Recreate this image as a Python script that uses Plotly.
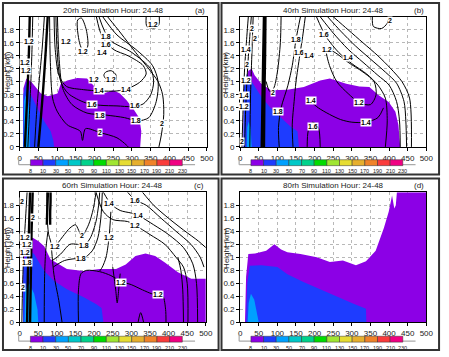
import plotly.graph_objects as go

W, H = 449, 357

# ---------------- data ----------------
TITLES = ["20rh Simulation Hour: 24-48", "40rh Simulation Hour: 24-48",
          "60rh Simulation Hour: 24-48", "80rh Simulation Hour: 24-48"]
TAGS = ["(a)", "(b)", "(c)", "(d)"]
X_TICKS = [0, 50, 100, 150, 200, 250, 300, 350, 400, 450, 500]
Y_TICKS = [0, 0.2, 0.4, 0.6, 0.8, 1, 1.2, 1.4, 1.6, 1.8]
Y_TICKTEXT = ["0", "0.2", "0.4", "0.6", "0.8", "1", "1.2", "1.4", "1.6", "1.8"]
CB_LEVELS = [8, 10, 30, 50, 70, 90, 110, 130, 150, 170, 190, 210, 230]
CB_COLORS = ["#8c00e6", "#1e3cff", "#00a0ff", "#00c8c8", "#00d28c", "#00dc00",
             "#a0e632", "#e6dc32", "#e6af2d", "#f08228", "#fa3c3c", "#f00082"]

# filled regions (top boundary of each shaded class), km / km
a_purple_x = [9, 10, 18, 31, 57, 75, 101, 110, 127, 154, 180, 206, 224, 250, 268, 285, 303, 320, 325, 322]
a_purple_y = [0, 0.9, 1.05, 1.0, 0.82, 0.78, 0.82, 0.97, 1.02, 1.06, 1.05, 0.89, 0.82, 0.87, 0.82, 0.72, 0.59, 0.44, 0.24, 0]
a_blue_x = [9, 10, 18, 31, 48, 66, 83, 90, 92]
a_blue_y = [0, 0.8, 1.0, 0.79, 0.59, 0.39, 0.24, 0.1, 0]
a_lblue_x = [11, 12, 16, 22, 26, 27]
a_lblue_y = [0, 0.7, 0.79, 0.75, 0.5, 0]

b_purple_x = [9, 10, 22, 31, 39, 57, 83, 127, 171, 215, 241, 285, 320, 347, 373, 399, 417, 425, 430]
b_purple_y = [0, 0.9, 1.17, 1.2, 1.1, 0.97, 0.87, 0.88, 0.92, 1.02, 1.05, 0.97, 0.93, 0.92, 0.79, 0.69, 0.54, 0.34, 0]
b_blue_x = [9, 10, 18, 31, 57, 83, 110, 136, 154, 158]
b_blue_y = [0, 0.9, 1.12, 1.0, 0.77, 0.59, 0.44, 0.31, 0.24, 0]
b_lblue_x = [18, 19, 23, 28, 31]
b_lblue_y = [0, 0.3, 0.39, 0.3, 0]

c_purple_x = [9, 10, 20, 35, 50, 66, 83, 110, 127, 171, 215, 259, 285, 311, 338, 364, 390, 425, 461, 500]
c_purple_y = [0, 1.0, 1.25, 1.3, 1.25, 1.17, 0.97, 0.87, 0.82, 0.79, 0.82, 0.82, 0.89, 1.02, 1.06, 1.02, 0.92, 0.77, 0.67, 0.67]
c_blue_x = [9, 10, 22, 39, 66, 92, 127, 171, 206, 220, 225]
c_blue_y = [0, 0.9, 1.12, 1.05, 0.79, 0.64, 0.51, 0.39, 0.28, 0.22, 0]
c_lblue_x = [13, 15, 26, 39, 48, 50]
c_lblue_y = [0, 0.5, 0.6, 0.44, 0.2, 0]

d_purple_x = [13, 16, 22, 40, 70, 92, 110, 127, 162, 206, 241, 276, 311, 338, 364, 386, 399, 408, 414, 418, 421, 500]
d_purple_y = [0, 0.7, 1.05, 1.06, 1.1, 1.2, 1.12, 1.08, 1.05, 1.0, 0.93, 0.95, 0.88, 0.94, 1.1, 1.45, 1.7, 1.95, 1.75, 1.8, 2.0, 2.0]
d_blue_x = [16, 19, 26, 57, 100, 127, 170, 215, 259, 303, 338, 339]
d_blue_y = [0, 0.6, 0.87, 0.88, 0.85, 0.74, 0.62, 0.51, 0.39, 0.29, 0.21, 0]
d_lblue_x = [20, 23, 29, 38, 50]
d_lblue_y = [0, 0.3, 0.44, 0.35, 0]

# contour lines (x list, y list)
a_lines = [
    ([14, 18, 22, 25, 27], [0, 0.5, 1.0, 1.5, 2.0]),
    ([22, 26, 30, 33, 35], [0, 0.5, 1.0, 1.5, 2.0]),
    ([40, 45, 52, 60, 66], [0, 0.5, 1.0, 1.5, 2.0]),
    ([50, 56, 63, 70, 75], [0, 0.4, 0.9, 1.5, 2.0]),
    ([92, 95, 105, 125, 170, 215, 260, 290, 320, 338, 330, 290, 250, 220, 205],
     [2.0, 1.5, 1.1, 0.93, 0.88, 0.86, 0.86, 0.9, 0.99, 1.12, 1.25, 1.4, 1.5, 1.7, 2.0]),
    ([97, 100, 110, 130, 175, 215, 260, 300, 330, 350, 358, 350, 300, 240, 212],
     [2.0, 1.5, 1.0, 0.82, 0.68, 0.64, 0.63, 0.62, 0.66, 0.8, 1.0, 1.2, 1.45, 1.65, 2.0]),
    ([101, 105, 115, 140, 180, 230, 280, 315, 345, 365, 370, 355, 310, 260, 222],
     [2.0, 1.4, 0.9, 0.65, 0.52, 0.49, 0.45, 0.4, 0.45, 0.7, 1.0, 1.25, 1.5, 1.72, 2.0]),
    ([80, 82, 88, 100, 127, 162, 168, 176, 215, 260, 285, 290],
     [2.0, 1.3, 0.75, 0.55, 0.34, 0.24, 0.1, 0.28, 0.22, 0.14, 0.03, 0]),
    ([235, 270, 310, 345, 370, 382, 385, 379, 372],
     [2.0, 1.75, 1.45, 1.2, 1.0, 0.8, 0.5, 0.2, 0]),
    ([155, 160, 172, 182, 178, 165, 155], [1.95, 1.6, 1.45, 1.55, 1.8, 1.98, 1.95]),
    ([338, 340, 360, 372, 373], [2.0, 1.85, 1.82, 1.88, 2.0]),
    ([225, 235, 255, 258, 245, 230, 225], [1.1, 1.02, 1.0, 1.1, 1.17, 1.15, 1.1]),
]
a_thick = [0, 3]
a_labels = [("1.2", 26, 1.62), ("1.2", 13, 1.3), ("1.2", 18, 1.18), ("1.2", 125, 1.62),
            ("1.2", 170, 1.47), ("1.8", 230, 1.69), ("1.6", 230, 1.58), ("1.4", 219, 1.45),
            ("1.2", 245, 1.04), ("1.4", 283, 0.88), ("1.4", 213, 0.86), ("1.6", 193, 0.65),
            ("1.8", 215, 0.49), ("2", 215, 0.22), ("1.6", 307, 0.63), ("1.8", 310, 0.40),
            ("2", 379, 0.36), ("1.2", 355, 1.88), ("1.2", 198, 1.04)]

b_lines = [
    ([5, 8, 12, 18, 22], [0, 0.6, 1.2, 1.7, 2.0]),
    ([12, 15, 20, 26, 30], [0, 0.6, 1.2, 1.7, 2.0]),
    ([26, 28, 32, 35], [0, 0.8, 1.5, 2.0]),
    ([58, 60, 62, 64], [0, 0.7, 1.4, 2.0]),
    ([64, 65, 67, 68], [0, 0.7, 1.4, 2.0]),
    ([110, 108, 100, 90, 80, 70], [2.0, 1.6, 1.15, 0.9, 0.85, 1.0]),
    ([162, 150, 140, 128, 110, 103, 105], [2.0, 1.65, 1.25, 0.94, 0.6, 0.3, 0]),
    ([175, 168, 160, 150, 145, 140, 142], [2.0, 1.7, 1.4, 1.0, 0.7, 0.35, 0]),
    ([180, 183, 195, 210, 215], [0, 0.25, 0.38, 0.3, 0]),
    ([205, 230, 265, 300, 340, 370, 390, 395, 390], [2.0, 1.7, 1.45, 1.28, 1.12, 0.95, 0.75, 0.4, 0]),
    ([215, 250, 290, 330, 370, 400, 420, 428, 430], [2.0, 1.75, 1.5, 1.3, 1.1, 0.95, 0.7, 0.4, 0]),
    ([235, 270, 310, 350, 390, 420, 440, 445, 447], [2.0, 1.78, 1.55, 1.35, 1.15, 0.98, 0.7, 0.4, 0]),
    ([250, 290, 330, 370, 405, 435, 455, 460], [2.0, 1.8, 1.6, 1.4, 1.2, 1.0, 0.75, 0]),
    ([232, 240, 260, 290, 320, 350, 365, 360, 330, 290, 255, 232],
     [1.5, 1.25, 1.0, 0.82, 0.68, 0.65, 0.8, 1.0, 1.15, 1.3, 1.45, 1.5]),
    ([185, 210, 240, 270, 300, 338, 370, 385], [0.72, 0.6, 0.5, 0.42, 0.38, 0.38, 0.45, 0.6]),
    ([355, 358, 380, 395, 400], [2.0, 1.85, 1.82, 1.9, 2.0]),
]
b_thick = [3, 4]
b_labels = [("2", 33, 1.82), ("2", 40, 1.66), ("1.4", 15, 1.5), ("2", 18, 1.27),
            ("1.2", 15, 1.02), ("1.4", 11, 0.79), ("1.2", 11, 0.62), ("2", 6, 0.09),
            ("2", 88, 0.83), ("1.8", 101, 0.54), ("1.8", 150, 1.65), ("1.6", 158, 1.45),
            ("1.4", 184, 1.4), ("1.6", 225, 1.72), ("1.2", 232, 1.5), ("1.4", 290, 1.38),
            ("1.4", 189, 0.72), ("1.6", 196, 0.32), ("1.2", 320, 0.68), ("1.4", 338, 0.38),
            ("2", 403, 1.94)]

c_lines = [
    ([6, 8, 12, 18, 20], [0, 0.6, 1.2, 1.8, 2.0]),
    ([20, 22, 25, 28], [0, 0.7, 1.4, 2.0]),
    ([28, 30, 32, 35], [0, 0.7, 1.4, 2.0]),
    ([73, 74, 75, 76], [1.5, 1.7, 1.85, 2.0]),
    ([82, 82, 83, 83], [1.5, 1.7, 1.85, 2.0]),
    ([73, 74, 78, 83, 92, 105, 114], [2.0, 1.6, 1.35, 1.25, 0.74, 0.34, 0]),
    ([66, 67, 70, 76], [0, 0.7, 1.1, 1.4]),
    ([158, 158, 165, 180, 215, 245, 272, 300, 330, 355, 375, 385, 392, 393],
     [0, 0.5, 0.75, 0.8, 0.78, 0.72, 0.63, 0.58, 0.5, 0.44, 0.42, 0.4, 0.2, 0]),
    ([250, 258, 262, 266, 270], [0.85, 0.5, 0.3, 0.5, 0.75]),
    ([318, 325, 333], [0, 0.15, 0]),
    ([425, 433, 438, 440], [1.0, 0.8, 0.5, 0]),
    ([205, 225, 250, 290, 311, 350, 390, 420, 440, 450, 452],
     [2.0, 1.7, 1.58, 1.55, 1.49, 1.35, 1.2, 1.0, 0.85, 0.6, 0]),
    ([225, 245, 270, 300, 320, 360, 400, 440, 465, 475, 478],
     [2.0, 1.82, 1.72, 1.68, 1.64, 1.5, 1.35, 1.15, 0.9, 0.6, 0]),
    ([290, 311, 340, 380, 420, 460, 485, 495], [2.0, 1.88, 1.8, 1.6, 1.4, 1.2, 1.0, 0.85]),
    ([330, 360, 400, 440, 480, 500], [2.0, 1.8, 1.6, 1.42, 1.25, 1.15]),
    ([85, 100, 120, 135, 150, 167, 185, 198, 205], [1.1, 1.2, 1.35, 1.45, 1.5, 1.33, 1.5, 1.75, 2.0]),
    ([88, 110, 135, 155, 173, 190, 205, 212, 215], [0.95, 1.05, 1.2, 1.2, 1.18, 1.3, 1.55, 1.8, 2.0]),
    ([90, 120, 150, 170, 195, 210, 218, 222], [0.85, 0.95, 0.98, 0.98, 1.1, 1.3, 1.6, 2.0]),
    ([245, 240, 232, 222, 215], [1.7, 1.3, 1.0, 0.85, 0.79]),
]
c_thick = [1, 2, 3, 4]
c_labels = [("2", 6, 1.86), ("2", 35, 1.61), ("1.2", 15, 1.3), ("1.2", 20, 1.2),
            ("1.2", 15, 1.07), ("1.8", 20, 0.92), ("2", 9, 0.54), ("2", 167, 1.33),
            ("1.8", 173, 1.18), ("1.8", 164, 0.98), ("1.2", 96, 1.17), ("1.4", 241, 1.82),
            ("1.6", 311, 1.88), ("1.4", 318, 1.65), ("1.2", 311, 1.49), ("1.2", 239, 1.3),
            ("1.2", 272, 0.62), ("1.2", 371, 0.43)]

d_lines = []
d_thick = []
d_labels = []

# ---------------- layout helpers (pixels) ----------------
def fx(p):
    return p / W

def fy(p):
    return 1 - p / H

PLOTS = [  # plot area left, right, top, bottom in px
    (18, 209, 17, 149), (243, 433, 17, 149),
    (18, 208, 195, 327), (243, 433, 195, 327)]
FRAMES = [(1, 221, 3, 177), (224, 446, 3, 177), (1, 221, 181, 355), (224, 446, 181, 355)]
CBARS = [(29, 184, 162, 168), (254, 409, 162, 168), (29, 184, 341, 347), (254, 409, 341, 347)]

fills = [(a_purple_x, a_purple_y, a_blue_x, a_blue_y, a_lblue_x, a_lblue_y),
         (b_purple_x, b_purple_y, b_blue_x, b_blue_y, b_lblue_x, b_lblue_y),
         (c_purple_x, c_purple_y, c_blue_x, c_blue_y, c_lblue_x, c_lblue_y),
         (d_purple_x, d_purple_y, d_blue_x, d_blue_y, d_lblue_x, d_lblue_y)]
lines = [(a_lines, a_thick, a_labels), (b_lines, b_thick, b_labels),
         (c_lines, c_thick, c_labels), (d_lines, d_thick, d_labels)]

fig = go.Figure()
shapes = []
annotations = []
FONT = "Liberation Sans"
TXT = "#222222"


def paper_text(x, y, text, size, angle=0):
    return dict(x=fx(x), y=fy(y), xref="paper", yref="paper", text=text, showarrow=False,
                xanchor="center", yanchor="middle", textangle=angle,
                font=dict(size=size, color=TXT, family=FONT))


for i in range(4):
    n = "" if i == 0 else str(i + 1)
    xa, ya = "x" + n, "y" + n
    L, R, T, B = PLOTS[i]
    px_, py_, bx, by, lx, ly = fills[i]
    for xs, ys, col in [(px_, py_, CB_COLORS[0]), (bx, by, CB_COLORS[1]), (lx, ly, CB_COLORS[2])]:
        fig.add_trace(go.Scatter(x=xs, y=ys, mode="lines", fill="tozeroy",
                                 fillcolor=col, line=dict(width=0, color=col),
                                 xaxis=xa, yaxis=ya, hoverinfo="skip", showlegend=False))
    lns, thick, labs = lines[i]
    for k, (xs, ys) in enumerate(lns):
        fig.add_trace(go.Scatter(x=xs, y=ys, mode="lines",
                                 line=dict(color="black", width=2.4 if k in thick else 1,
                                           shape="spline", smoothing=0.8),
                                 xaxis=xa, yaxis=ya, hoverinfo="skip", showlegend=False))
    for (t, x, y) in labs:
        annotations.append(dict(x=x, y=y, xref=xa, yref=ya, text="<b>%s</b>" % t, showarrow=False,
                                xanchor="center", yanchor="middle",
                                font=dict(size=7, color="black", family=FONT), bgcolor="white",
                                borderpad=0))
    axis_common = dict(showline=True, mirror=True, linecolor="black", linewidth=1,
                       ticks="outside", ticklen=3, tickcolor="black",
                       tickfont=dict(size=8, color=TXT, family=FONT),
                       showgrid=True, gridcolor="#b8b8b8", griddash="dot", gridwidth=1,
                       zeroline=False, fixedrange=True)
    fig.update_layout(**{
        "xaxis" + n: dict(domain=[fx(L), fx(R)], range=[0, 500], tickvals=X_TICKS,
                          anchor=ya, **axis_common),
        "yaxis" + n: dict(domain=[fy(B), fy(T)], range=[0, 2], tickvals=Y_TICKS,
                          ticktext=Y_TICKTEXT, anchor=xa, **axis_common),
    })
    # frame
    fl, fr, ft, fb = FRAMES[i]
    shapes.append(dict(type="rect", xref="paper", yref="paper", x0=fx(fl), x1=fx(fr),
                       y0=fy(fb), y1=fy(ft), line=dict(color="#333333", width=2), layer="above"))
    # titles
    annotations.append(paper_text((L + R) / 2, (ft + T) / 2 + 0.5, TITLES[i], 8))
    annotations.append(paper_text(R - 7, (ft + T) / 2 + 0.5, TAGS[i], 8))
    annotations.append(paper_text(fl + 5, (T + B) / 2 - 10, "Height (km)", 8, -90))
    # colorbar
    cl, cr, ct, cb = CBARS[i]
    nb = len(CB_COLORS)
    wseg = (cr - cl) / nb
    shapes.append(dict(type="line", xref="paper", yref="paper", x0=fx(L - 1), x1=fx(cr + 13),
                       y0=fy(cb - 1), y1=fy(cb - 1), line=dict(color="#aaaaaa", width=1.2)))
    shapes.append(dict(type="line", xref="paper", yref="paper", x0=fx(L - 1), x1=fx(L - 1),
                       y0=fy(cb - 1), y1=fy(ct - 2), line=dict(color="#aaaaaa", width=1.2)))
    for j, col in enumerate(CB_COLORS):
        shapes.append(dict(type="rect", xref="paper", yref="paper",
                           x0=fx(cl + j * wseg), x1=fx(cl + (j + 1) * wseg),
                           y0=fy(cb), y1=fy(ct), fillcolor=col,
                           line=dict(color="#333333", width=0.5)))
    for j, lev in enumerate(CB_LEVELS):
        annotations.append(paper_text(cl + j * wseg, cb + 5.5, str(lev), 5.5))

fig.update_layout(width=W, height=H, margin=dict(l=0, r=0, t=0, b=0), autosize=False,
                  paper_bgcolor="white", plot_bgcolor="white",
                  shapes=shapes, annotations=annotations, showlegend=False)
fig.write_html("out.html")
